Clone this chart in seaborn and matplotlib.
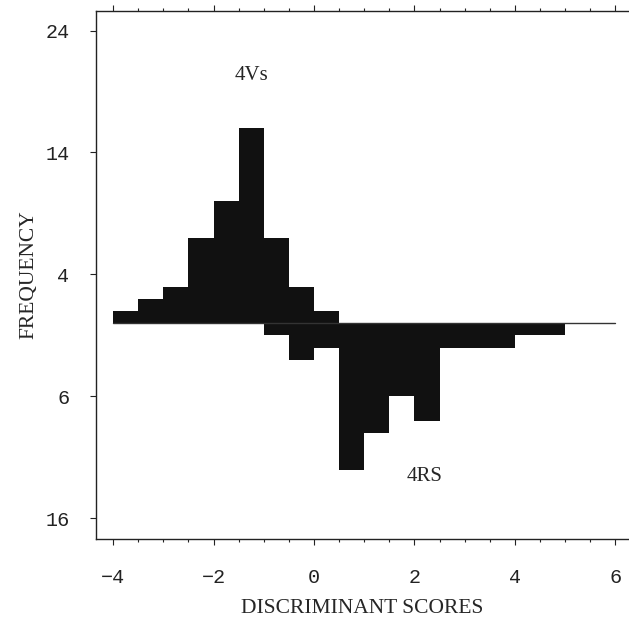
import numpy as np
import pandas as pd
import matplotlib
matplotlib.use("Agg")
import matplotlib.pyplot as plt
import seaborn as sns
from matplotlib.ticker import MultipleLocator, FixedLocator, FuncFormatter

# left edges of the 0.5-wide score bins
score_bins = [-4.0, -3.5, -3.0, -2.5, -2.0, -1.5, -1.0, -0.5, 0.0,
              0.5, 1.0, 1.5, 2.0, 2.5, 3.0, 3.5, 4.0, 4.5]
# 4Vs group, drawn upwards
vs_counts = [1, 2, 3, 7, 10, 16, 7, 3, 1, 0, 0, 0, 0, 0, 0, 0, 0, 0]
# 4RS group, drawn downwards
rs_counts = [0, 0, 0, 0, 0, 0, 1, 3, 2, 12, 9, 6, 8, 2, 2, 2, 1, 1]

bin_width = 0.5
y_ticks = [24, 14, 4, -6, -16]
x_ticks = [-4, -2, 0, 2, 4, 6]

sns.set_style("ticks")
plt.rcParams["font.family"] = ["Liberation Serif", "DejaVu Serif"]

fig = plt.figure(figsize=(6.29, 6.28), dpi=100)
ax = fig.add_axes([0.1526, 0.1417, 0.8474, 0.8408])

edges = [b for b in score_bins] + [score_bins[-1] + bin_width]
df = pd.DataFrame({
    "score": [b + bin_width / 2 for b in score_bins],
    "vs": [float(c) for c in vs_counts],
    "rs": [-float(c) for c in rs_counts],
})

sns.histplot(data=df, x="score", weights="vs", bins=edges, ax=ax,
             color="#111111", alpha=1, linewidth=0, element="bars")
sns.histplot(data=df, x="score", weights="rs", bins=edges, ax=ax,
             color="#111111", alpha=1, linewidth=0, element="bars")

# baseline
ax.plot([-4, 6], [0, 0], color="#333333", lw=1.0)

ax.text(-1.25, 20.3, "4Vs", ha="center", va="center", fontsize=15)
ax.text(2.2, -12.6, "4RS", ha="center", va="center", fontsize=15)

ax.set_xlim(-4.34, 6.27)
ax.set_ylim(-17.7, 25.6)

ax.xaxis.set_major_locator(FixedLocator(x_ticks))
ax.xaxis.set_minor_locator(MultipleLocator(0.5))
ax.yaxis.set_major_locator(FixedLocator(y_ticks))
ax.yaxis.set_major_formatter(FuncFormatter(lambda v, p: f"{abs(int(round(v)))}"))

ax.tick_params(axis="x", which="both", top=True, bottom=True, direction="out",
               width=0.8, colors="#222222")
ax.tick_params(axis="x", which="major", length=4, pad=17)
ax.tick_params(axis="x", which="minor", length=2.5)
ax.tick_params(axis="y", which="major", length=4, width=0.8, pad=15, colors="#222222")

for lbl in ax.get_xticklabels() + ax.get_yticklabels():
    lbl.set_fontfamily(["Liberation Mono", "DejaVu Sans Mono"])
    lbl.set_fontsize(14.5)

ax.set_xlabel("DISCRIMINANT SCORES", fontsize=15.5)
ax.set_ylabel("FREQUENCY", fontsize=15.5)
ax.xaxis.set_label_coords(0.5, -0.113)
ax.yaxis.set_label_coords(-0.108, 0.5)

for side in ["left", "bottom", "top"]:
    ax.spines[side].set_linewidth(1.0)
    ax.spines[side].set_color("#222222")
ax.spines["right"].set_visible(False)

fig.savefig("out.png", dpi=100)
